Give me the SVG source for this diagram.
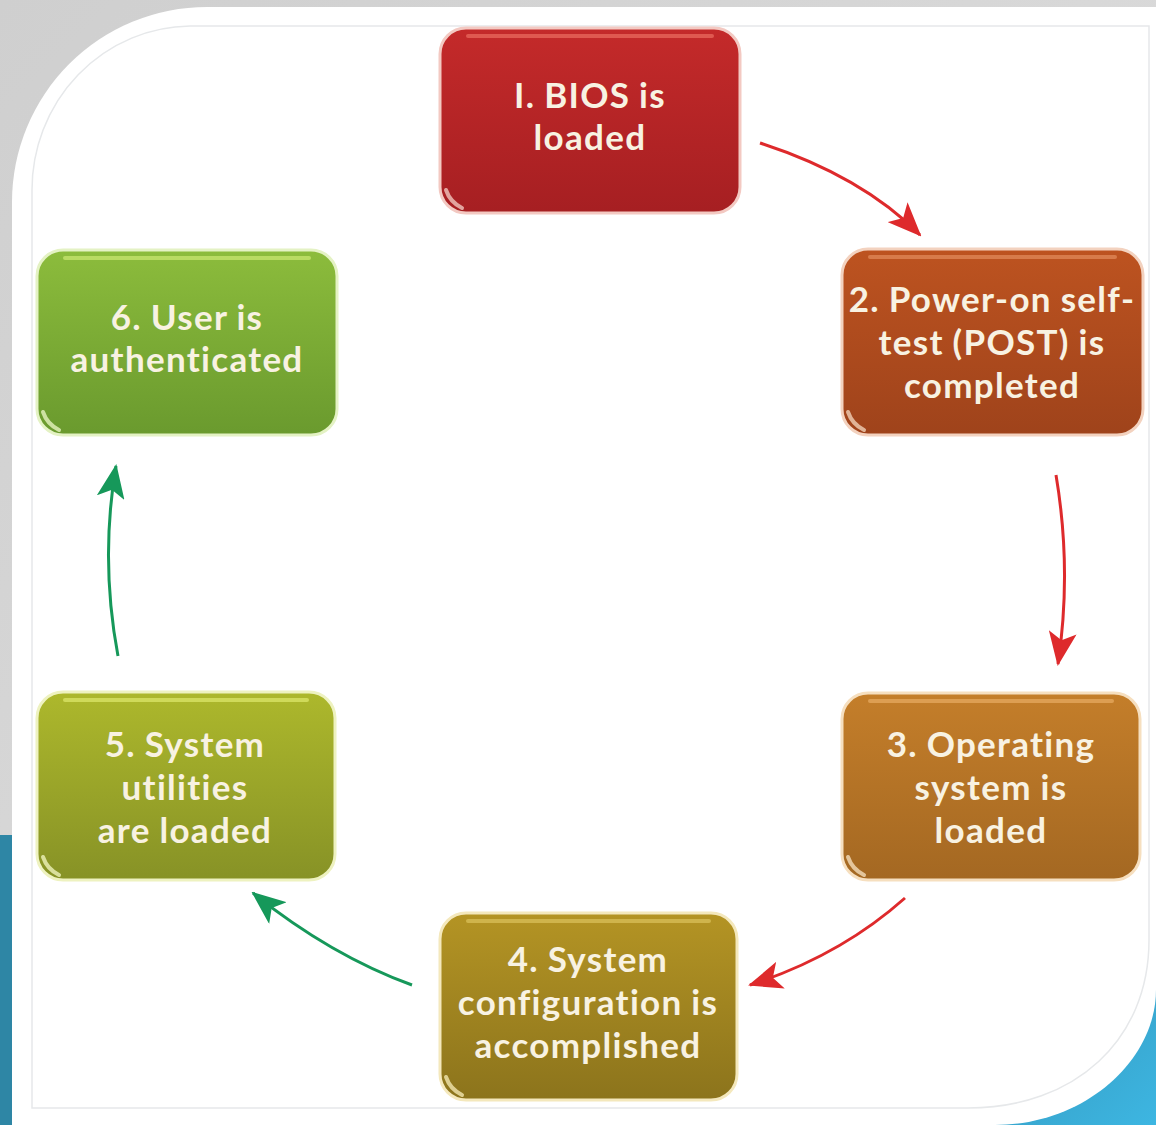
<svg xmlns="http://www.w3.org/2000/svg" width="1156" height="1125" viewBox="0 0 1156 1125">
<style>
.box{stroke-width:3}
.gl{fill:none;stroke-width:4;stroke-linecap:round;opacity:0.75}
.lbl{font-family:Lato,"Open Sans","DejaVu Sans",sans-serif;font-weight:bold;font-size:35px;letter-spacing:1.3px;word-spacing:-1px;fill:#f8f2e2;text-anchor:middle}
.red{fill:none;stroke:#de2a2c;stroke-width:3}
.grn{fill:none;stroke:#16985a;stroke-width:3}
</style>
<defs>
<linearGradient id="gBg" x1="0" y1="0" x2="1" y2="1"><stop offset="0" stop-color="#cfcfcf"/><stop offset="1" stop-color="#e2e2e2"/></linearGradient>
<linearGradient id="gBlue" x1="0" y1="0" x2="1" y2="1"><stop offset="0" stop-color="#2c7f9e"/><stop offset="1" stop-color="#3db6e2"/></linearGradient>
<linearGradient id="g1" x1="0" y1="0" x2="0" y2="1"><stop offset="0" stop-color="#c42a2a"/><stop offset="1" stop-color="#a61f22"/></linearGradient>
<linearGradient id="g2" x1="0" y1="0" x2="0" y2="1"><stop offset="0" stop-color="#bd5320"/><stop offset="1" stop-color="#9f431b"/></linearGradient>
<linearGradient id="g3" x1="0" y1="0" x2="0" y2="1"><stop offset="0" stop-color="#c47e2a"/><stop offset="1" stop-color="#a46822"/></linearGradient>
<linearGradient id="g4" x1="0" y1="0" x2="0" y2="1"><stop offset="0" stop-color="#b49424"/><stop offset="1" stop-color="#8c741c"/></linearGradient>
<linearGradient id="g5" x1="0" y1="0" x2="0" y2="1"><stop offset="0" stop-color="#adb82c"/><stop offset="1" stop-color="#879226"/></linearGradient>
<linearGradient id="g6" x1="0" y1="0" x2="0" y2="1"><stop offset="0" stop-color="#8cbc3c"/><stop offset="1" stop-color="#6a9a2e"/></linearGradient>
<marker id="aR" markerUnits="userSpaceOnUse" markerWidth="34" markerHeight="28" viewBox="0 0 34 28" refX="32" refY="14" orient="auto"><path d="M0 0 L34 14 L0 28 L8 14 Z" fill="#de2a2c"/></marker>
<marker id="aG" markerUnits="userSpaceOnUse" markerWidth="34" markerHeight="28" viewBox="0 0 34 28" refX="32" refY="14" orient="auto"><path d="M0 0 L34 14 L0 28 L8 14 Z" fill="#16985a"/></marker>
</defs>

<rect x="0" y="0" width="1156" height="1125" fill="url(#gBg)"/>
<rect x="0" y="835" width="12" height="290" fill="#2e86a5"/>
<path d="M880 1125 L1156 1125 L1156 880 Z" fill="url(#gBlue)"/>
<path d="M207 7 H1156 V990 C1156 1060 1085 1125 995 1125 H12 V202 A195 195 0 0 1 207 7 Z" fill="#ffffff"/>
<path d="M190 26 H1149 V940 C1149 1040 1075 1108 968 1108 H32 V190 A160 164 0 0 1 190 26 Z" fill="none" stroke="#e6e8ea" stroke-width="1.5"/>

<g id="connectors">
<path class="red" d="M760 143 Q862 176 920 235" marker-end="url(#aR)"/>
<path class="red" d="M1056 475 Q1072 570 1058 664" marker-end="url(#aR)"/>
<path class="red" d="M905 898 Q840 956 750 985" marker-end="url(#aR)"/>
<path class="grn" d="M412 985 Q330 955 253 893" marker-end="url(#aG)"/>
<path class="grn" d="M118 656 Q100 560 116 466" marker-end="url(#aG)"/>
</g>

<g id="node1">
<rect class="box" x="440" y="28" width="300" height="185" rx="26" fill="url(#g1)" stroke="#f3c9c2"/>
<path class="gl" d="M468 36 H712" stroke="#e86a5e"/>
<path class="gl" d="M446 190 Q450 202 462 208" stroke="#f5d0c8"/>
<text class="lbl" x="590" y="108">I. BIOS is</text>
<text class="lbl" x="590" y="150">loaded</text>
</g>

<g id="node2">
<rect class="box" x="842" y="249" width="301" height="186" rx="26" fill="url(#g2)" stroke="#f3d2bf"/>
<path class="gl" d="M870 257 H1115" stroke="#e08a5a"/>
<path class="gl" d="M848 412 Q852 424 864 430" stroke="#f5d8c0"/>
<text class="lbl" x="992" y="312">2. Power-on self-</text>
<text class="lbl" x="992" y="355">test (POST) is</text>
<text class="lbl" x="992" y="398">completed</text>
</g>

<g id="node3">
<rect class="box" x="842" y="693" width="298" height="187" rx="26" fill="url(#g3)" stroke="#f6dfbf"/>
<path class="gl" d="M870 701 H1112" stroke="#e6aa60"/>
<path class="gl" d="M848 857 Q852 869 864 875" stroke="#f8e4c4"/>
<text class="lbl" x="991" y="757">3. Operating</text>
<text class="lbl" x="991" y="800">system is</text>
<text class="lbl" x="991" y="843">loaded</text>
</g>

<g id="node4">
<rect class="box" x="440" y="913" width="297" height="187" rx="26" fill="url(#g4)" stroke="#f4e8bc"/>
<path class="gl" d="M468 921 H709" stroke="#d8bf5a"/>
<path class="gl" d="M446 1077 Q450 1089 462 1095" stroke="#f8edb8"/>
<text class="lbl" x="588" y="972">4. System</text>
<text class="lbl" x="588" y="1015">configuration is</text>
<text class="lbl" x="588" y="1058">accomplished</text>
</g>

<g id="node5">
<rect class="box" x="37" y="692" width="298" height="188" rx="26" fill="url(#g5)" stroke="#eef2c0"/>
<path class="gl" d="M65 700 H307" stroke="#dbe66a"/>
<path class="gl" d="M43 857 Q47 869 59 875" stroke="#f4f8c4"/>
<text class="lbl" x="185" y="757">5. System</text>
<text class="lbl" x="185" y="800">utilities</text>
<text class="lbl" x="185" y="843">are loaded</text>
</g>

<g id="node6">
<rect class="box" x="37" y="250" width="300" height="185" rx="26" fill="url(#g6)" stroke="#e4f2c4"/>
<path class="gl" d="M65 258 H309" stroke="#c8e670"/>
<path class="gl" d="M43 412 Q47 424 59 430" stroke="#eef8c8"/>
<text class="lbl" x="187" y="330">6. User is</text>
<text class="lbl" x="187" y="372">authenticated</text>
</g>
</svg>
